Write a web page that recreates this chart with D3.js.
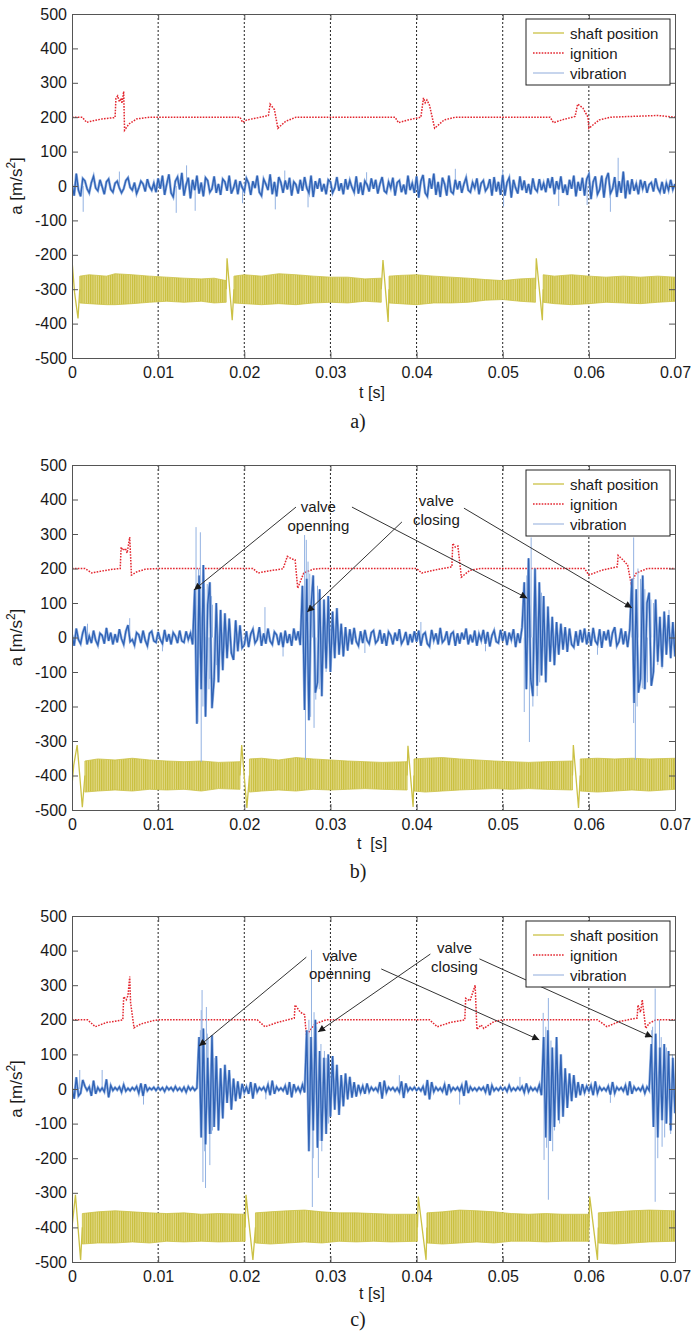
<!DOCTYPE html>
<html>
<head>
<meta charset="utf-8">
<script src="https://cdn.jsdelivr.net/npm/d3@7"></script>
<style>
body { margin: 0; background: #fff; }
svg text { font-family: "Liberation Sans", Arial, sans-serif; fill: #1a1a1a; }
</style>
</head>
<body>
<svg id="fig" width="692" height="1335"></svg>
<script>
// ---- data ----
var xTicks = [0, 0.01, 0.02, 0.03, 0.04, 0.05, 0.06, 0.07];
var xGrid = [0.01, 0.02, 0.03, 0.04, 0.05, 0.06];
var yTicks = [-500, -400, -300, -200, -100, 0, 100, 200, 300, 400, 500];
var legendNames = ["shaft position", "ignition", "vibration"];
var vibStep = 0.00025; // sample spacing of the vibration arrays [s]

// vibration, dark core (one value every vibStep)
var vibA = [
  4,-28,36,-12,-30,22,15,-8,-20,10,28,-6,-14,18,-2,-24,12,20,-10,-18,
  8,14,-6,-20,-8,16,24,-4,-12,10,-22,-6,14,6,-16,20,-2,-12,8,-18,
  22,-8,30,-26,6,34,-20,-32,14,26,-10,38,-28,4,24,-36,18,-12,30,-22,
  10,-30,24,16,-18,-8,28,-20,6,-26,20,12,-14,30,-22,-6,18,-24,14,-4,
  -16,22,8,-26,14,-6,30,-18,-28,20,6,-12,34,-24,12,-30,26,10,-20,16,
  -10,24,-28,12,4,-22,18,-14,26,-6,-20,30,-32,14,-8,22,-16,6,-24,18,
  12,-20,-6,26,-14,8,-24,20,-10,16,-4,-18,28,-22,10,-26,14,4,-16,22,
  -8,18,-22,6,26,-14,-20,12,-6,24,-28,10,16,-18,4,-24,30,-12,8,-20,
  28,-34,14,32,-20,-30,22,-8,36,-26,12,-32,24,6,-28,30,-16,-22,18,-10,
  14,-20,6,24,-12,-18,10,-6,22,-24,8,16,-14,-4,20,-28,26,-16,12,-26,
  32,-28,10,24,-34,18,-6,-22,28,-12,16,-20,6,-24,22,-8,-16,20,-12,8,
  -18,22,-6,26,-24,14,-10,28,-20,4,-26,18,-8,30,-30,12,-14,24,-28,20,
  34,-38,12,28,-24,-10,30,-34,20,38,-22,-8,26,-32,14,-20,42,-36,16,-24,
  20,-14,6,-24,18,-8,14,-20,4,10,-16,22,-6,-18,12,-22,8,-12,18,-10,
  6
];
var vibB = [
  8,-24,26,-6,-18,14,32,-20,4,-16,20,-8,-22,12,6,-18,28,-10,14,-20,
  10,-14,24,-4,-20,18,36,-12,-6,-22,14,8,-16,20,-8,-24,12,18,-10,-14,
  16,-6,-18,22,-12,10,-20,14,4,-16,20,-10,-14,18,-6,12,-20,140,-250,180,
  -150,210,-230,95,160,-205,-120,100,-130,80,-95,70,-60,55,-45,-65,50,-40,35,-30,
  -22,18,-28,10,24,-16,-6,30,-24,12,-18,26,-10,-20,16,8,-22,14,-28,20,
  -16,10,-24,26,-8,18,-22,150,-210,170,-240,90,180,-160,-130,140,-170,110,-90,120,
  -100,75,-60,85,-50,40,-55,30,-38,24,-20,28,-12,-24,18,-16,22,-8,-18,14,
  20,-16,-8,22,-18,12,-24,16,6,-20,14,-10,24,-18,-6,16,-22,10,-14,18,
  -12,20,-24,8,14,-18,-26,22,-8,12,-20,28,-14,-6,18,-22,10,16,-24,12,
  -18,14,-6,26,-20,8,-14,20,-24,10,-8,22,-18,16,-26,6,20,-12,-16,22,
  -10,18,-22,14,-6,24,-28,12,-16,30,160,-150,230,-120,-170,200,-140,160,-110,120,
  -130,90,-70,60,-80,45,-50,40,-35,30,-42,26,-20,-28,18,-24,22,-14,26,-20,
  16,-24,28,-10,-20,24,-30,18,-8,22,-26,14,30,-24,-12,26,-20,18,-28,24,
  170,-190,140,-160,-120,180,-150,100,130,-140,-100,110,-70,60,-85,75,-50,65,-60,45,
  -55
];
var vibC = [
  2,-28,34,-20,-12,26,8,-4,6,-20,24,-14,4,-6,3,-8,28,-24,10,-4,
  4,-3,6,-9,12,-6,2,-5,4,-3,7,-12,16,-20,14,-5,3,-2,5,-4,
  5,-3,4,-7,6,-2,4,-5,7,-4,3,-6,5,-9,7,-3,5,-4,3,150,
  -140,175,-160,90,-130,155,-110,95,-120,60,-85,70,-40,55,-60,30,-35,22,-28,15,
  -10,6,-14,20,-28,16,-8,4,-3,5,-8,12,-18,24,-14,6,-4,3,-5,9,
  -16,20,-24,14,-6,5,-9,12,-10,170,-180,150,-120,200,-170,110,-150,90,-130,100,
  -80,95,-60,70,-75,40,-50,45,-30,35,-25,20,-22,12,-10,8,-14,16,-8,5,
  -4,3,-7,20,-28,24,-10,5,-3,4,-6,3,-9,22,-26,16,-6,4,-3,5,
  -4,3,-5,7,-18,26,-30,20,-8,5,-4,3,-7,12,-18,14,-6,4,-3,5,
  -6,10,-20,24,-12,6,-4,3,-5,4,-3,5,-9,14,-18,10,-5,3,-4,5,
  -3,4,-7,10,-5,3,-4,5,-3,7,-10,16,-8,5,-4,3,-6,12,-18,150,
  -140,170,-150,120,-110,150,-90,100,-80,60,-55,45,-35,40,-25,20,-18,14,-10,8,
  -6,10,-18,22,-12,6,-4,3,-5,8,-16,20,-12,5,-3,4,-6,10,-18,22,
  -14,6,-4,3,-5,8,-12,6,-4,130,-110,160,-140,120,-90,130,-100,110,-120,90,
  -70
];

// vibration, light single spikes [t, a]
var peaksA = [[0.0013,-75],[0.0055,42],[0.0121,-78],[0.0133,60],[0.0143,-72],[0.0198,-50],[0.0236,-68],
  [0.0247,45],[0.0274,-62],[0.0342,40],[0.0445,50],[0.0500,48],[0.0501,-60],[0.0565,-58],[0.0598,-55],
  [0.0625,-75],[0.0634,82]];
var peaksB = [[0.0018,40],[0.0067,56],[0.0105,-40],[0.0224,88],[0.0245,-55],[0.0340,-45],[0.0405,45],[0.0480,-40],[0.0610,-50],
  [0.0144,320],[0.0149,305],[0.0153,160],[0.0157,155],[0.0146,-245],[0.0150,-361],[0.0155,-181],[0.0159,-150],[0.0162,120],[0.0165,-110],
  [0.0147,200],[0.0152,-200],[0.0154,140],[0.0160,-120],[0.0163,95],[0.0168,-80],[0.0172,70],
  [0.0270,297],[0.0272,283],[0.0276,185],[0.0279,175],[0.0286,130],[0.0271,-355],[0.0277,-230],[0.0281,-262],[0.0287,-150],[0.0292,100],[0.0295,-100],
  [0.0274,220],[0.0283,-180],[0.0285,150],[0.0290,-120],[0.0298,80],
  [0.0533,290],[0.0530,230],[0.0531,-303],[0.0525,-216],[0.0540,-170],[0.0545,130],[0.0550,-120],
  [0.0528,180],[0.0535,-200],[0.0538,160],[0.0543,-130],[0.0548,100],
  [0.0652,290],[0.0657,200],[0.0654,-355],[0.0652,-248],[0.0662,-147],[0.0668,-130],[0.0665,140],[0.0675,100],[0.0685,-90],[0.0693,80],
  [0.0650,160],[0.0656,-200],[0.0660,170],[0.0664,-150],[0.0672,110],[0.0680,-80]];
var peaksC = [[0.0009,55],[0.0035,55],[0.0083,-45],[0.0225,-30],[0.0380,40],[0.0450,-45],[0.0520,35],[0.0625,-40],
  [0.0151,286],[0.0150,228],[0.0156,237],[0.0152,-269],[0.0155,-286],[0.0160,-220],[0.0158,150],[0.0163,-120],[0.0168,90],
  [0.0149,170],[0.0154,-180],[0.0157,160],[0.0162,-130],[0.0166,90],
  [0.0278,402],[0.0281,222],[0.0284,180],[0.0279,-341],[0.0286,-257],[0.0290,-180],[0.0293,110],[0.0298,-100],[0.0289,130],
  [0.0275,200],[0.0280,-200],[0.0283,160],[0.0288,-150],[0.0295,90],
  [0.0553,263],[0.0547,220],[0.0553,-320],[0.0548,-205],[0.0558,-180],[0.0561,120],[0.0566,-100],
  [0.0550,180],[0.0551,-170],[0.0556,140],[0.0560,-120],
  [0.0677,290],[0.0674,180],[0.0677,-326],[0.0685,-167],[0.0690,120],[0.0695,-130],[0.0682,200],
  [0.0673,170],[0.0680,-200],[0.0684,150],[0.0688,-140],[0.0697,100]];

// ignition [t, a]
var ignA = [[0,200],[0.0012,200],[0.0017,185],[0.0025,190],[0.0035,195],[0.005,199],[0.0051,255],[0.0053,262],[0.0055,245],
  [0.0057,255],[0.0058,240],[0.006,275],[0.0061,162],[0.0066,180],[0.0075,195],[0.009,200],[0.0195,200],[0.0198,185],
  [0.0203,192],[0.0215,198],[0.0228,205],[0.023,238],[0.0235,222],[0.0239,168],[0.0248,188],[0.026,200],[0.0375,200],
  [0.0379,184],[0.039,192],[0.0405,200],[0.0408,256],[0.041,242],[0.0412,250],[0.0415,235],[0.0421,168],[0.0432,192],
  [0.0445,200],[0.0555,200],[0.0559,184],[0.057,193],[0.0584,202],[0.0587,238],[0.0593,227],[0.0599,200],[0.0600,168],
  [0.0612,192],[0.0625,200],[0.068,205],[0.070,200]];
var ignB = [[0,200],[0.0015,200],[0.0023,187],[0.0035,193],[0.0048,198],[0.0056,200],[0.0057,262],[0.0059,253],[0.0062,258],
  [0.0064,245],[0.0067,291],[0.0069,181],[0.0075,190],[0.0085,198],[0.0100,200],[0.0210,200],[0.0216,187],[0.0228,193],
  [0.0245,199],[0.025,235],[0.0255,228],[0.0259,225],[0.0262,143],[0.0269,187],[0.028,198],[0.029,200],[0.040,200],
  [0.0406,187],[0.042,195],[0.0441,205],[0.0442,273],[0.0445,262],[0.0448,265],[0.0452,175],[0.0462,195],[0.0475,200],
  [0.0595,200],[0.060,181],[0.0615,195],[0.0633,205],[0.0634,238],[0.064,224],[0.0645,210],[0.0649,157],[0.0655,187],
  [0.0668,200],[0.070,200]];
var ignC = [[0,200],[0.0018,200],[0.0027,180],[0.004,192],[0.0055,198],[0.0059,200],[0.006,267],[0.0063,258],[0.0065,270],
  [0.0067,325],[0.0068,250],[0.0072,177],[0.008,188],[0.0095,198],[0.0102,200],[0.0215,200],[0.0224,180],[0.0238,192],
  [0.0258,205],[0.0259,243],[0.0265,222],[0.0270,215],[0.0272,155],[0.0282,188],[0.0295,200],[0.0415,200],[0.0424,180],
  [0.044,193],[0.0456,200],[0.0457,262],[0.0462,255],[0.0468,300],[0.0470,172],[0.0475,185],[0.0478,175],[0.049,195],
  [0.050,200],[0.061,200],[0.0621,180],[0.0635,195],[0.0656,205],[0.0657,243],[0.066,222],[0.0662,258],[0.0666,175],
  [0.067,190],[0.0678,200],[0.070,200]];

// shaft position: oscillation band [t, upper, lower] between sync pulses
var bandA = [
  [[0.0009,-262,-340],[0.002,-258,-342],[0.004,-262,-345],[0.005,-255,-345],[0.007,-258,-342],[0.009,-262,-338],[0.011,-265,-335],[0.013,-268,-338],[0.015,-270,-335],[0.0165,-268,-340],[0.0179,-275,-338]],
  [[0.0188,-262,-340],[0.020,-258,-342],[0.022,-262,-345],[0.024,-255,-342],[0.026,-258,-345],[0.028,-262,-340],[0.030,-265,-338],[0.032,-265,-340],[0.034,-270,-335],[0.0359,-268,-338]],
  [[0.0368,-262,-340],[0.038,-260,-342],[0.040,-258,-345],[0.042,-262,-340],[0.044,-265,-340],[0.046,-268,-338],[0.048,-272,-332],[0.050,-275,-330],[0.052,-270,-335],[0.0538,-268,-338]],
  [[0.0547,-258,-338],[0.056,-262,-342],[0.058,-258,-345],[0.060,-262,-342],[0.062,-265,-338],[0.064,-262,-340],[0.066,-265,-342],[0.068,-262,-338],[0.070,-265,-335]]
];
var bandB = [
  [[0.0015,-358,-448],[0.003,-352,-445],[0.005,-355,-442],[0.007,-350,-445],[0.009,-355,-440],[0.011,-358,-442],[0.013,-360,-440],[0.015,-358,-445],[0.017,-362,-438],[0.0195,-360,-440]],
  [[0.0206,-352,-448],[0.022,-350,-445],[0.024,-355,-442],[0.026,-348,-445],[0.028,-352,-440],[0.030,-355,-442],[0.032,-358,-440],[0.034,-360,-438],[0.036,-362,-440],[0.0389,-360,-442]],
  [[0.0397,-352,-445],[0.041,-350,-448],[0.043,-348,-445],[0.045,-352,-442],[0.047,-355,-440],[0.049,-358,-438],[0.051,-360,-440],[0.053,-362,-438],[0.055,-360,-440],[0.0581,-358,-442]],
  [[0.059,-352,-445],[0.061,-350,-448],[0.063,-352,-445],[0.065,-350,-442],[0.067,-352,-445],[0.070,-350,-440]]
];
var bandC = [
  [[0.0012,-360,-448],[0.003,-355,-445],[0.005,-352,-445],[0.007,-355,-442],[0.009,-358,-445],[0.011,-360,-440],[0.013,-358,-442],[0.015,-362,-440],[0.017,-360,-442],[0.0201,-362,-440]],
  [[0.0213,-358,-445],[0.023,-355,-448],[0.025,-352,-445],[0.027,-350,-442],[0.029,-355,-445],[0.031,-358,-440],[0.033,-358,-442],[0.035,-360,-440],[0.037,-362,-442],[0.0401,-362,-440]],
  [[0.0412,-358,-445],[0.043,-355,-448],[0.045,-350,-445],[0.047,-352,-442],[0.049,-355,-445],[0.051,-360,-440],[0.053,-362,-440],[0.055,-360,-442],[0.057,-362,-440],[0.060,-362,-440]],
  [[0.0611,-358,-445],[0.063,-355,-448],[0.065,-352,-445],[0.067,-350,-442],[0.070,-352,-440]]
];
// shaft position: sync pulses [t, a]
var pulsesA = [
  [[0,-215],[0.0003,-310],[0.0007,-385],[0.0009,-300]],
  [[0.0179,-300],[0.0180,-210],[0.0186,-390],[0.0188,-300]],
  [[0.0359,-300],[0.0361,-215],[0.0367,-395],[0.0368,-300]],
  [[0.0538,-300],[0.0539,-210],[0.0546,-390],[0.0547,-300]]
];
var pulsesB = [
  [[0,-430],[0.0002,-370],[0.0006,-312],[0.0009,-400],[0.0012,-492],[0.0015,-400]],
  [[0.0195,-400],[0.0197,-312],[0.0203,-494],[0.0206,-400]],
  [[0.0389,-400],[0.0390,-314],[0.0396,-491],[0.0397,-400]],
  [[0.0581,-400],[0.0582,-312],[0.0588,-494],[0.0590,-400]]
];
var pulsesC = [
  [[0,-400],[0.0004,-306],[0.0010,-494],[0.0012,-400]],
  [[0.0201,-400],[0.0202,-306],[0.0210,-494],[0.0213,-400]],
  [[0.0401,-400],[0.0402,-311],[0.0411,-494],[0.0412,-400]],
  [[0.0600,-400],[0.0601,-311],[0.0610,-494],[0.0611,-400]]
];

// annotations: arrows [t0, a0, t1, a1] and labels [t, a, text]
var arrowsB = [[0.0260,378,0.01417,138],[0.0325,378,0.05285,114],[0.0383,335,0.0273,74],[0.0455,375,0.0650,86]];
var notesB = [[0.0286,381,"valve"],[0.0286,326,"openning"],[0.0423,396,"valve"],[0.0423,343,"closing"]];
var arrowsC = [[0.0272,381,0.01475,124],[0.0359,347,0.05424,142],[0.0416,390,0.02857,165],[0.0473,376,0.06736,150]];
var notesC = [[0.0311,387,"valve"],[0.0311,335,"openning"],[0.0444,410,"valve"],[0.0444,355,"closing"]];

var panels = [
  {top: 14, bottom: 358, xLab: "t [s]", xLabY: 392, cap: "a)", capY: 421,
   vib: vibA, peaks: peaksA, ign: ignA, band: bandA, pulses: pulsesA, arrows: [], notes: []},
  {top: 465, bottom: 810, xLab: "t  [s]", xLabY: 843, cap: "b)", capY: 871,
   vib: vibB, peaks: peaksB, ign: ignB, band: bandB, pulses: pulsesB, arrows: arrowsB, notes: notesB},
  {top: 916, bottom: 1262, xLab: "t [s]", xLabY: 1293, cap: "c)", capY: 1319,
   vib: vibC, peaks: peaksC, ign: ignC, band: bandC, pulses: pulsesC, arrows: arrowsC, notes: notesC}
];

var colShaft = "#cbc145", colIgn = "#e3262f", colVib = "#2f62b5", colVibLight = "#93b2e2", colVibLegend = "#a9bfe3";

var svg = d3.select("#fig");
var x = d3.scaleLinear().domain([0, 0.07]).range([72, 675]);

var defs = svg.append("defs");
var pat = defs.append("pattern").attr("id", "shaftTex").attr("patternUnits", "userSpaceOnUse")
  .attr("width", 2.2).attr("height", 20);
pat.append("rect").attr("width", 2.2).attr("height", 20).attr("fill", "#e1d986");
pat.append("rect").attr("width", 1.1).attr("height", 20).attr("fill", "#c8bd3a");
defs.append("marker").attr("id", "arrow").attr("viewBox", "0 0 10 10")
  .attr("refX", 10).attr("refY", 5).attr("markerWidth", 10).attr("markerHeight", 7)
  .attr("markerUnits", "userSpaceOnUse").attr("orient", "auto")
  .append("path").attr("d", "M0,0L10,5L0,10z").attr("fill", "#1a1a1a");

function drawPanel(p, k) {
  var y = d3.scaleLinear().domain([-500, 500]).range([p.bottom, p.top]);
  var g = svg.append("g");

  defs.append("clipPath").attr("id", "clip" + k).append("rect")
    .attr("x", x(0)).attr("y", p.top).attr("width", x(0.07) - x(0)).attr("height", p.bottom - p.top);
  var plot = g.append("g").attr("clip-path", "url(#clip" + k + ")");

  // vertical dotted grid
  plot.selectAll(".grid").data(xGrid).join("line")
    .attr("x1", d => x(d)).attr("x2", d => x(d))
    .attr("y1", p.top).attr("y2", p.bottom)
    .attr("stroke", "#222").attr("stroke-width", 1).attr("stroke-dasharray", "2,2");

  // shaft position
  var band = d3.area().x(d => x(d[0])).y0(d => y(d[2])).y1(d => y(d[1]));
  plot.selectAll(".band").data(p.band).join("path")
    .attr("d", band).attr("fill", "url(#shaftTex)")
    .attr("stroke", colShaft).attr("stroke-width", 0.8);
  var line = d3.line().x(d => x(d[0])).y(d => y(d[1]));
  plot.selectAll(".pulse").data(p.pulses).join("path")
    .attr("d", line).attr("fill", "none").attr("stroke", colShaft).attr("stroke-width", 1.3);

  // ignition
  plot.append("path").datum(p.ign).attr("d", line)
    .attr("fill", "none").attr("stroke", colIgn).attr("stroke-width", 1.5)
    .attr("stroke-dasharray", "1.6,1.3");

  // vibration
  plot.selectAll(".peak").data(p.peaks).join("line")
    .attr("x1", d => x(d[0])).attr("x2", d => x(d[0]))
    .attr("y1", y(0)).attr("y2", d => y(d[1]))
    .attr("stroke", colVibLight).attr("stroke-width", 1);
  var vibPts = p.vib.map((v, i) => [i * vibStep, v]);
  plot.append("path").datum(vibPts).attr("d", line)
    .attr("fill", "none").attr("stroke", colVibLight).attr("stroke-width", 2.6);
  plot.append("path").datum(vibPts).attr("d", line)
    .attr("fill", "none").attr("stroke", colVib).attr("stroke-width", 1.3);

  // annotations
  g.selectAll(".arr").data(p.arrows).join("line")
    .attr("x1", d => x(d[0])).attr("y1", d => y(d[1]))
    .attr("x2", d => x(d[2])).attr("y2", d => y(d[3]))
    .attr("stroke", "#333").attr("stroke-width", 1).attr("marker-end", "url(#arrow)");
  g.selectAll(".note").data(p.notes).join("text")
    .attr("x", d => x(d[0])).attr("y", d => y(d[1]))
    .attr("text-anchor", "middle").attr("dominant-baseline", "central")
    .attr("font-size", 15).text(d => d[2]);

  // axes, ticks inside on all four sides
  var fmtX = d => d === 0 ? "0" : d3.format(".2f")(d);
  var fmtY = d => String(d);
  var ax = [
    g.append("g").attr("transform", "translate(0," + p.bottom + ")")
      .call(d3.axisBottom(x).tickValues(xTicks).tickFormat(fmtX).tickSize(-6).tickSizeOuter(0).tickPadding(9)),
    g.append("g").attr("transform", "translate(0," + p.top + ")")
      .call(d3.axisTop(x).tickValues(xTicks).tickFormat("").tickSize(-6).tickSizeOuter(0)),
    g.append("g").attr("transform", "translate(" + x(0) + ",0)")
      .call(d3.axisLeft(y).tickValues(yTicks).tickFormat(fmtY).tickSize(-6).tickSizeOuter(0).tickPadding(5)),
    g.append("g").attr("transform", "translate(" + x(0.07) + ",0)")
      .call(d3.axisRight(y).tickValues(yTicks).tickFormat("").tickSize(-6).tickSizeOuter(0))
  ];
  ax.forEach(a => {
    a.select(".domain").attr("stroke", "#555");
    a.selectAll(".tick line").attr("stroke", "#555");
    a.selectAll("text").attr("font-size", 16).attr("fill", "#1a1a1a")
      .attr("font-family", "'Liberation Sans', Arial, sans-serif");
  });

  // axis titles and caption
  var yl = g.append("text").attr("transform", "translate(22," + ((p.top + p.bottom) / 2) + ") rotate(-90)")
    .attr("text-anchor", "middle").attr("font-size", 17);
  yl.append("tspan").text("a [m/s");
  yl.append("tspan").attr("font-size", 12).attr("dy", -7).text("2");
  yl.append("tspan").attr("dy", 7).text("]");
  g.append("text").attr("x", 372).attr("y", p.xLabY).attr("dominant-baseline", "central")
    .attr("text-anchor", "middle").attr("font-size", 16).style("white-space", "pre").text(p.xLab);
  g.append("text").attr("x", 358).attr("y", p.capY).attr("dominant-baseline", "central")
    .attr("text-anchor", "middle").attr("font-size", 20)
    .style("font-family", "'Liberation Serif', 'Times New Roman', serif").text(p.cap);

  // legend
  var lg = g.append("g").attr("transform", "translate(526," + (p.top + 5) + ")");
  lg.append("rect").attr("width", 144).attr("height", 66).attr("fill", "#fff")
    .attr("stroke", "#222").attr("stroke-width", 1);
  var rows = lg.selectAll(".row").data(legendNames).join("g")
    .attr("transform", (d, i) => "translate(0," + (14 + i * 20) + ")");
  rows.append("line").attr("x1", 7).attr("x2", 38)
    .attr("stroke", (d, i) => [colShaft, colIgn, colVibLegend][i])
    .attr("stroke-width", (d, i) => i === 1 ? 1.5 : 1.3)
    .attr("stroke-dasharray", (d, i) => i === 1 ? "1.6,1.3" : null);
  rows.append("text").attr("x", 44).attr("dominant-baseline", "central")
    .attr("font-size", 15).text(d => d);
}

panels.forEach(drawPanel);
</script>
</body>
</html>
